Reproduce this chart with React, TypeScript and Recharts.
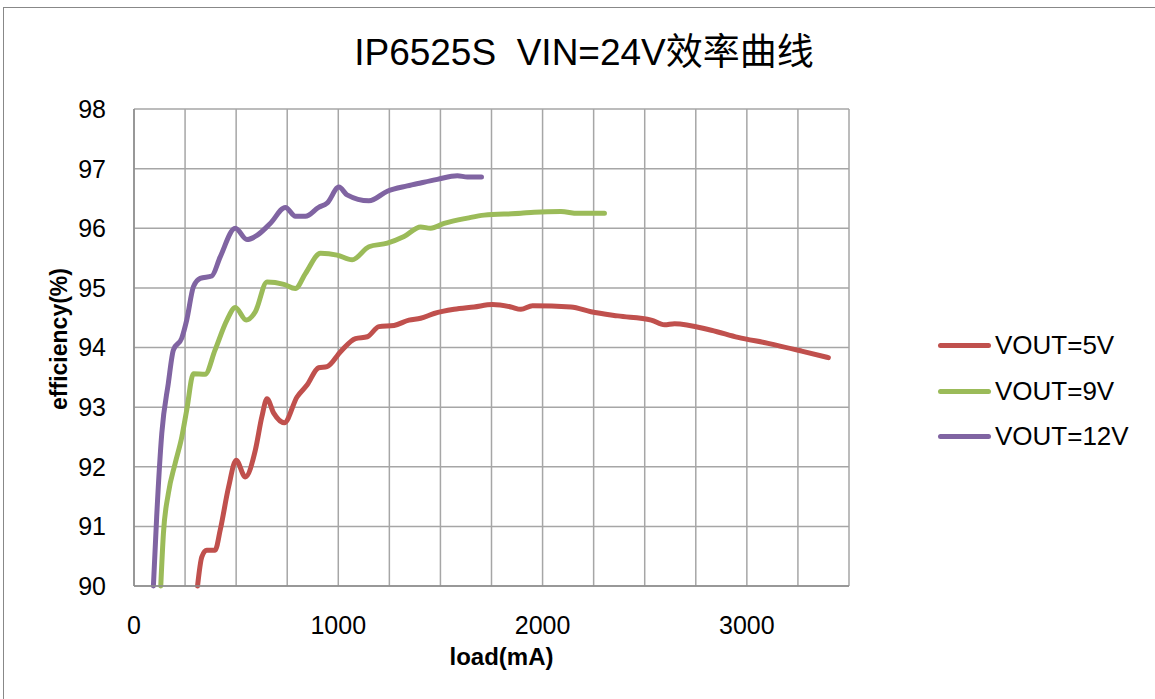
import React from "react";
import {
  LineChart,
  Line,
  XAxis,
  YAxis,
  CartesianGrid,
  Label
} from "recharts";

const title = "IP6525S  VIN=24V效率曲线";
const seriesNames = ["VOUT=5V", "VOUT=9V", "VOUT=12V"];
const seriesColors = ["#C0504D", "#9BBB59", "#8064A2"];

const xTicks = [0, 250, 500, 750, 1000, 1250, 1500, 1750, 2000, 2250, 2500, 2750, 3000, 3250, 3500];
const yTicks = [90, 91, 92, 93, 94, 95, 96, 97, 98];

const load5V = [311, 332, 356, 397, 422, 463, 500, 545, 594, 626, 651, 684, 736, 798, 847, 904, 945, 1011, 1084, 1142, 1199, 1273, 1346, 1403, 1469, 1567, 1665, 1755, 1845, 1894, 1951, 2139, 2237, 2368, 2532, 2597, 2646, 2826, 2957, 3104, 3268, 3399];
const eff5V = [90.0, 90.49, 90.6, 90.6, 90.94, 91.66, 92.11, 91.83, 92.28, 92.84, 93.14, 92.9, 92.74, 93.17, 93.37, 93.66, 93.68, 93.93, 94.15, 94.18, 94.35, 94.37, 94.46, 94.49, 94.57, 94.64, 94.68, 94.72, 94.68, 94.64, 94.7, 94.68, 94.6, 94.53, 94.46, 94.38, 94.4, 94.29, 94.17, 94.07, 93.94, 93.83];

const load9V = [131, 144, 168, 201, 234, 258, 291, 348, 397, 455, 496, 549, 594, 651, 733, 790, 839, 913, 994, 1068, 1150, 1240, 1322, 1403, 1452, 1518, 1632, 1714, 1894, 1959, 2090, 2172, 2303];
const eff9V = [90.0, 90.88, 91.55, 92.05, 92.5, 92.95, 93.56, 93.55, 93.96, 94.46, 94.67, 94.46, 94.6, 95.1, 95.06, 94.99, 95.24, 95.58, 95.55, 95.47, 95.69, 95.75, 95.86, 96.02, 96.0, 96.08, 96.17, 96.22, 96.25, 96.27, 96.28, 96.25, 96.25];

const load12V = [95, 111, 136, 168, 193, 234, 258, 291, 324, 381, 422, 496, 553, 602, 667, 741, 790, 839, 904, 945, 1003, 1043, 1150, 1240, 1338, 1403, 1485, 1583, 1632, 1701];
const eff12V = [90.0, 91.16, 92.56, 93.4, 93.96, 94.16, 94.46, 95.02, 95.16, 95.2, 95.52, 96.0, 95.81, 95.88, 96.08, 96.35, 96.2, 96.2, 96.35, 96.42, 96.69, 96.56, 96.46, 96.62, 96.71, 96.76, 96.82, 96.88, 96.86, 96.86];

const toRows = (xs: number[], ys: number[]) => xs.map((x, i) => ({ load: x, eff: ys[i] }));
const series = [toRows(load5V, eff5V), toRows(load9V, eff9V), toRows(load12V, eff12V)];

const font = "'Liberation Sans', Arial, sans-serif";

function XTick(props: any) {
  const { x, y, payload } = props;
  if (payload.value % 1000 !== 0 || payload.value > 3000) return null;
  return (
    <text x={x} y={y + 40} textAnchor="middle" fontSize={25} fill="#000" fontFamily={font}>
      {payload.value}
    </text>
  );
}

function YTitle() {
  return (
    <text
      x={0}
      y={0}
      transform="translate(67 339) rotate(-90)"
      textAnchor="middle"
      fontFamily={font}
      fontWeight="bold"
      fontSize={23}
      fill="#000"
    >
      efficiency(%)
    </text>
  );
}

export default function App() {
  return (
    <div style={{ position: "absolute", left: 0, top: 0, width: 1155, height: 699, overflow: "hidden", background: "#fff" }}>
      <div style={{ position: "absolute", left: 3, top: 7, width: 1200, height: 750, border: "1.5px solid #888" }} />
      <div
        style={{
          position: "absolute",
          left: 0,
          top: 22,
          width: 1168,
          textAlign: "center",
          whiteSpace: "pre",
          fontFamily: "'Liberation Sans', Arial, 'Noto Sans CJK SC', sans-serif",
          fontSize: 37,
          color: "#000"
        }}
      >
        {title}
      </div>
      <div style={{ position: "absolute", left: 0, top: 0 }}>
        <LineChart width={1155} height={699} margin={{ top: 109, right: 306, bottom: 83, left: 74 }}>
          <CartesianGrid stroke="#a6a6a6" strokeWidth={1.5} />
          <XAxis
            type="number"
            dataKey="load"
            domain={[0, 3500]}
            ticks={xTicks}
            interval={0}
            height={30}
            tick={<XTick />}
            tickLine={false}
            axisLine={{ stroke: "#8c8c8c", strokeWidth: 1.5 }}
            allowDuplicatedCategory={false}
          >
            <Label
              value="load(mA)"
              position="insideBottom"
              dx={10}
              offset={-49}
              style={{ fontFamily: font, fontWeight: "bold", fontSize: 24, fill: "#000" }}
            />
          </XAxis>
          <YAxis
            type="number"
            domain={[90, 98]}
            ticks={yTicks}
            interval={0}
            width={60}
            tickLine={false}
            axisLine={{ stroke: "#8c8c8c", strokeWidth: 1.5 }}
            tick={{ fontSize: 25, fill: "#000", fontFamily: font }}
            tickMargin={22}
          >
            <Label content={<YTitle />} />
          </YAxis>
          {series.map((rows, i) => (
            <Line
              key={seriesNames[i]}
              data={rows}
              dataKey="eff"
              name={seriesNames[i]}
              type="monotone"
              stroke={seriesColors[i]}
              strokeWidth={5}
              strokeLinecap="round"
              dot={false}
              activeDot={false}
              isAnimationActive={false}
            />
          ))}
        </LineChart>
      </div>
      <div style={{ position: "absolute", left: 938, top: 323, fontFamily: font, fontSize: 26, color: "#000" }}>
        {seriesNames.map((n, i) => (
          <div key={n} style={{ display: "flex", alignItems: "center", height: 45.5 }}>
            <span
              style={{
                display: "inline-block",
                width: 53,
                height: 5,
                borderRadius: 3,
                background: seriesColors[i],
                marginRight: 4
              }}
            />
            {n}
          </div>
        ))}
      </div>
    </div>
  );
}
